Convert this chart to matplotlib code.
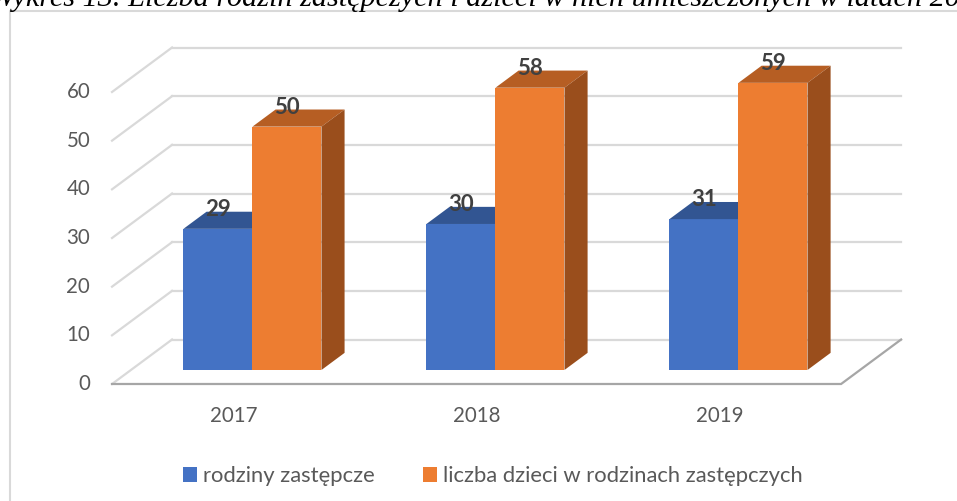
import matplotlib
matplotlib.use("Agg")
import matplotlib.pyplot as plt
from matplotlib.patches import Polygon, Patch
from matplotlib.lines import Line2D

# data
years = ["2017", "2018", "2019"]
rodziny = [29, 30, 31]
dzieci = [50, 58, 59]
series_names = ["rodziny zastępcze", "liczba dzieci w rodzinach zastępczych"]
y_ticks = [0, 10, 20, 30, 40, 50, 60]
title = "Wykres 13. Liczba rodzin zastępczych i dzieci w nich umieszczonych w latach 2017-2019"

W, H = 957, 501
fig = plt.figure(figsize=(W / 100, H / 100), dpi=100)
ax = fig.add_axes([0, 0, 1, 1])
ax.set_xlim(-0.961, 2.977)
ax.set_ylim(-24.04, 78.9)
ax.axis("off")

plt.rcParams["font.family"] = ["Lato", "DejaVu Sans"]
fs = 14.8

# fake 3D: offset of the back wall in data units
DX, DY = 0.247, 9.14
x0, x1 = -0.5, len(years) - 0.5
grid_c = "#D9D9D9"

for v in y_ticks:
    ax.plot([x0 + DX, x1 + DX], [v + DY, v + DY], color=grid_c, lw=1.6, zorder=1)
    ax.plot([x0, x0 + DX], [v, v + DY], color=grid_c, lw=1.6, zorder=1)
    ax.text(x0 - 0.09, v, str(v), ha="right", va="center", fontsize=fs, color="#595959")

# floor edges
ax.plot([x0, x1, x1 + DX], [0, 0, DY], color="#A6A6A6", lw=1.6, zorder=2,
        solid_joinstyle="miter")

f0, f1 = 0.315, 0.70   # bar depth inside the floor
bw = 0.284


def bar3d(xl, v, front, top, side):
    ox, oy = DX * f0, DY * f0
    dx, dy = DX * (f1 - f0), DY * (f1 - f0)
    a, b = xl + ox, xl + bw + ox
    ax.add_patch(Polygon([(a, oy), (b, oy), (b, v + oy), (a, v + oy)],
                         fc=front, ec="none", zorder=3))
    ax.add_patch(Polygon([(a, v + oy), (b, v + oy), (b + dx, v + oy + dy), (a + dx, v + oy + dy)],
                         fc=top, ec="none", zorder=3))
    ax.add_patch(Polygon([(b, oy), (b + dx, oy + dy), (b + dx, v + oy + dy), (b, v + oy)],
                         fc=side, ec="none", zorder=3))
    ax.text((a + b) / 2, v + oy + dy + 0.5, str(v), ha="center", va="center",
            fontsize=16, fontweight="bold", color="#404040", zorder=5)


for i, yr in enumerate(years):
    bar3d(i - bw, rodziny[i], "#4472C4", "#325592", "#2B4A80")
    bar3d(i, dzieci[i], "#ED7D31", "#B65E23", "#9A4E1C")
    ax.text(i, -6.6, yr, ha="center", va="center", fontsize=fs, color="#595959")

handles = [Patch(fc="#4472C4", ec="none"), Patch(fc="#ED7D31", ec="none")]
ax.legend(handles, series_names, loc="center", bbox_to_anchor=(0.515, 0.05), ncol=2,
          frameon=False, fontsize=15.8, handlelength=0.65, handleheight=0.65,
          handletextpad=0.28, columnspacing=2.2, labelcolor="#595959")

# chart area border (only top and left visible)
fig.add_artist(Line2D([10 / W, 10 / W, 1.0], [0.0, 1 - 11 / H, 1 - 11 / H],
                      transform=fig.transFigure, color="#D9D9D9", lw=1.5))

fig.text(-10 / W, 1 - 6 / H, title, fontsize=21.8, family="Liberation Serif",
         style="italic", va="baseline", color="black")

fig.savefig("out.png", dpi=100)
